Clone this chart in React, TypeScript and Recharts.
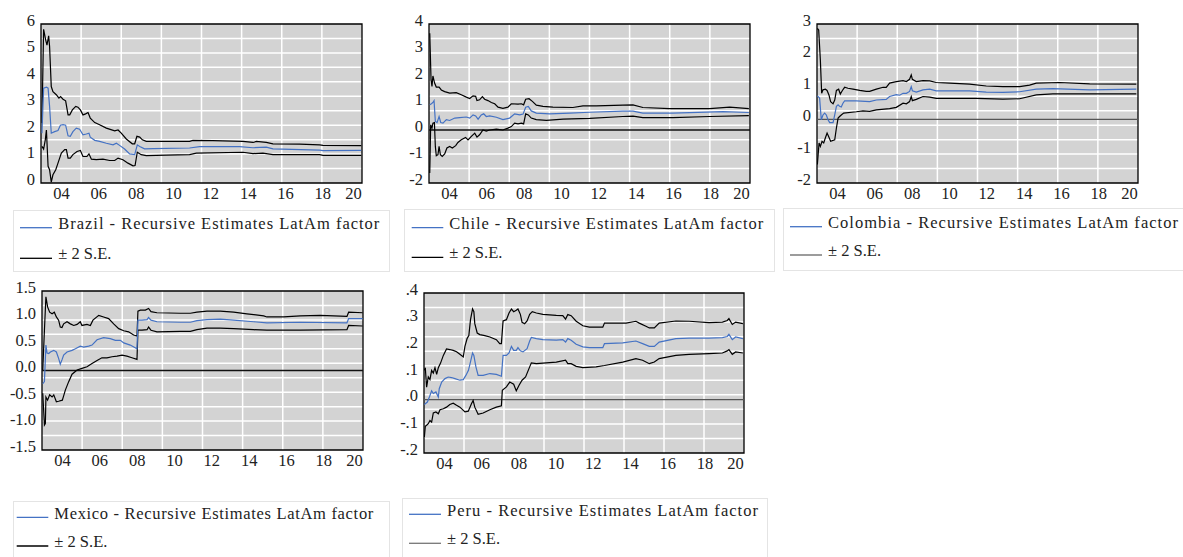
import { CartesianGrid, Line, LineChart, ReferenceArea, ReferenceLine, XAxis, YAxis } from "recharts";

const FONT = '"Liberation Serif", "DejaVu Serif", serif';
const BLUE = "#4472C4";

type Pair = [number, number];

// x = year (decimal), y = value
const yearTicks = [2004, 2006, 2008, 2010, 2012, 2014, 2016, 2018, 2020];
const xDomain: [number, number] = [2002.9, 2020.1];

const brazilYTicks = [0, 1, 2, 3, 4, 5, 6];
const chileYTicks = [-2, -1, 0, 1, 2, 3, 4];
const colombiaYTicks = [-2, -1, 0, 1, 2, 3];
const mexicoYTicks = [-1.5, -1.0, -0.5, 0.0, 0.5, 1.0, 1.5];
const peruYTicks = [-0.2, -0.1, 0.0, 0.1, 0.2, 0.3, 0.4];

const brazilUpper: Pair[] = [
  [2002.95, 2.26], [2003.04, 5.8], [2003.15, 5.4], [2003.22, 5.2], [2003.31, 5.55], [2003.36, 5.15],
  [2003.45, 3.64], [2003.54, 3.45], [2003.72, 3.33], [2003.86, 3.2], [2003.95, 3.26], [2004.08, 3.16],
  [2004.22, 3.1], [2004.35, 2.57], [2004.44, 2.57], [2004.58, 2.76], [2004.76, 2.89], [2004.88, 2.86],
  [2005.01, 2.76], [2005.15, 2.57], [2005.29, 2.61], [2005.42, 2.66], [2005.54, 2.45], [2005.78, 2.28],
  [2006.04, 2.2], [2006.4, 2.07], [2006.85, 1.97], [2007.03, 2.0], [2007.2, 1.88], [2007.47, 1.66],
  [2007.79, 1.48], [2007.92, 1.48], [2008.04, 1.76], [2008.19, 1.73], [2008.33, 1.63], [2008.54, 1.57],
  [2009.26, 1.57], [2010.86, 1.57], [2011.04, 1.61], [2012.11, 1.6], [2013.72, 1.57], [2014.26, 1.53],
  [2014.44, 1.57], [2014.97, 1.53], [2015.33, 1.48], [2016.76, 1.47], [2017.83, 1.44], [2018.01, 1.42],
  [2020.06, 1.41],
];
const brazilEst: Pair[] = [
  [2002.95, 1.88], [2003.04, 3.58], [2003.19, 3.62], [2003.28, 3.58], [2003.36, 2.89], [2003.45, 1.88],
  [2003.63, 1.94], [2003.81, 1.98], [2003.94, 2.18], [2004.08, 2.2], [2004.22, 2.18], [2004.35, 1.78],
  [2004.47, 1.76], [2004.61, 1.94], [2004.79, 2.07], [2004.97, 2.03], [2005.15, 1.82], [2005.33, 1.85],
  [2005.47, 1.88], [2005.54, 1.73], [2005.78, 1.61], [2006.04, 1.57], [2006.4, 1.5], [2006.76, 1.44],
  [2006.94, 1.5], [2007.11, 1.42], [2007.38, 1.28], [2007.65, 1.1], [2007.92, 1.07], [2008.06, 1.44],
  [2008.19, 1.38], [2008.45, 1.29], [2008.9, 1.3], [2010.86, 1.32], [2011.4, 1.37], [2013.54, 1.37],
  [2014.26, 1.33], [2014.97, 1.35], [2015.33, 1.29], [2017.83, 1.24], [2018.01, 1.22], [2020.06, 1.23],
];
const brazilLower: Pair[] = [
  [2002.95, 1.38], [2003.04, 1.28], [2003.13, 1.63], [2003.19, 2.0], [2003.28, 0.63], [2003.36, 0.5],
  [2003.45, 0.03], [2003.54, 0.31], [2003.69, 0.5], [2003.81, 0.75], [2003.99, 1.13], [2004.17, 1.26],
  [2004.26, 1.26], [2004.35, 0.94], [2004.47, 0.94], [2004.61, 1.07], [2004.83, 1.19], [2005.01, 1.23],
  [2005.15, 1.0], [2005.36, 1.0], [2005.47, 1.1], [2005.6, 0.9], [2005.86, 0.88], [2006.22, 0.9],
  [2006.58, 0.85], [2006.85, 0.85], [2007.03, 0.94], [2007.29, 0.88], [2007.56, 0.75], [2007.83, 0.65],
  [2007.94, 0.66], [2008.06, 1.16], [2008.27, 1.07], [2008.54, 1.03], [2009.61, 1.05], [2010.86, 1.07],
  [2011.22, 1.13], [2013.72, 1.16], [2014.26, 1.11], [2014.79, 1.13], [2015.33, 1.07], [2017.83, 1.07],
  [2018.01, 1.04], [2020.06, 1.04],
];

const chileUpper: Pair[] = [
  [2002.94, 3.65], [2003.01, 1.89], [2003.06, 1.64], [2003.11, 2.04], [2003.2, 1.77], [2003.29, 1.62],
  [2003.44, 1.62], [2003.56, 1.51], [2003.74, 1.45], [2004.01, 1.39], [2004.36, 1.41], [2004.63, 1.33],
  [2004.9, 1.24], [2005.08, 1.19], [2005.26, 1.29], [2005.4, 1.27], [2005.47, 1.11], [2005.61, 1.14],
  [2005.76, 1.26], [2005.88, 1.16], [2006.06, 1.11], [2006.24, 1.04], [2006.42, 0.99], [2006.6, 0.86],
  [2006.86, 0.82], [2007.13, 0.86], [2007.31, 0.99], [2007.67, 0.98], [2007.85, 0.99], [2007.97, 0.95],
  [2008.08, 1.16], [2008.26, 1.18], [2008.44, 1.08], [2008.65, 0.94], [2009.01, 0.89], [2009.54, 0.86],
  [2010.61, 0.85], [2011.15, 0.91], [2011.86, 0.91], [2013.29, 0.94], [2013.83, 0.95], [2014.36, 0.85],
  [2015.79, 0.81], [2017.94, 0.81], [2019.01, 0.86], [2020.04, 0.81],
];
const chileEst: Pair[] = [
  [2002.94, 0.95], [2003.03, 0.99], [2003.11, 1.04], [2003.17, 1.11], [2003.24, 0.32], [2003.33, 0.28],
  [2003.44, 0.51], [2003.53, 0.28], [2003.65, 0.26], [2003.83, 0.39], [2004.01, 0.36], [2004.28, 0.45],
  [2004.54, 0.47], [2004.9, 0.49], [2005.08, 0.45], [2005.26, 0.57], [2005.4, 0.53], [2005.53, 0.41],
  [2005.7, 0.57], [2005.83, 0.61], [2005.97, 0.51], [2006.15, 0.53], [2006.51, 0.48], [2006.86, 0.39],
  [2007.22, 0.45], [2007.49, 0.61], [2007.76, 0.57], [2007.94, 0.6], [2008.08, 0.86], [2008.22, 0.89],
  [2008.38, 0.72], [2008.65, 0.64], [2009.36, 0.61], [2010.44, 0.64], [2011.51, 0.67], [2013.29, 0.71],
  [2013.83, 0.71], [2014.36, 0.64], [2015.97, 0.64], [2018.65, 0.69], [2020.04, 0.66],
];
const chileLower: Pair[] = [
  [2002.94, -1.62], [2002.99, 0.2], [2003.06, 0.07], [2003.11, 0.26], [2003.19, 0.28], [2003.24, -0.62],
  [2003.29, -0.97], [2003.38, -0.93], [2003.44, -0.62], [2003.51, -0.93], [2003.61, -1.0], [2003.74, -0.9],
  [2003.86, -0.68], [2004.01, -0.62], [2004.15, -0.68], [2004.33, -0.59], [2004.45, -0.47], [2004.63, -0.37],
  [2004.86, -0.28], [2004.99, -0.37], [2005.17, -0.24], [2005.35, -0.12], [2005.47, -0.27], [2005.61, -0.18],
  [2005.79, 0.0], [2005.97, -0.04], [2006.15, 0.0], [2006.51, 0.03], [2006.86, 0.0], [2007.13, 0.07],
  [2007.31, 0.13], [2007.49, 0.26], [2007.67, 0.23], [2007.85, 0.26], [2007.97, 0.23], [2008.08, 0.61],
  [2008.22, 0.57], [2008.38, 0.45], [2008.65, 0.39], [2009.19, 0.36], [2010.08, 0.41], [2011.51, 0.44],
  [2013.29, 0.51], [2013.83, 0.52], [2014.36, 0.47], [2015.97, 0.47], [2017.94, 0.51], [2020.04, 0.54],
];

const colombiaUpper: Pair[] = [
  [2002.92, 2.86], [2002.99, 2.81], [2003.08, 1.87], [2003.15, 0.82], [2003.22, 0.93], [2003.35, 0.95],
  [2003.44, 0.91], [2003.54, 0.77], [2003.63, 0.56], [2003.76, 0.49], [2003.85, 0.61], [2003.94, 0.91],
  [2004.06, 0.95], [2004.15, 0.8], [2004.26, 0.91], [2004.38, 1.01], [2004.56, 0.98], [2004.83, 0.95],
  [2005.19, 0.91], [2005.54, 0.88], [2005.72, 0.88], [2006.08, 0.95], [2006.44, 1.01], [2006.61, 1.01],
  [2006.79, 1.14], [2007.15, 1.19], [2007.51, 1.22], [2007.69, 1.19], [2007.86, 1.26], [2007.95, 1.4],
  [2008.01, 1.26], [2008.22, 1.19], [2008.58, 1.22], [2008.94, 1.21], [2009.29, 1.16], [2010.01, 1.14],
  [2011.08, 1.11], [2011.97, 1.05], [2012.86, 1.03], [2013.76, 1.03], [2014.29, 1.08], [2014.65, 1.14],
  [2015.9, 1.16], [2017.51, 1.12], [2020.01, 1.11],
];
const colombiaEst: Pair[] = [
  [2002.92, 0.74], [2003.04, 0.67], [2003.13, -0.01], [2003.22, 0.14], [2003.31, 0.2], [2003.4, 0.14],
  [2003.49, -0.01], [2003.58, -0.1], [2003.76, -0.1], [2003.85, 0.14], [2003.94, 0.41], [2004.03, 0.46],
  [2004.11, 0.41], [2004.2, 0.39], [2004.29, 0.51], [2004.38, 0.58], [2005.01, 0.58], [2005.72, 0.56],
  [2006.08, 0.61], [2006.61, 0.63], [2006.79, 0.72], [2007.15, 0.78], [2007.33, 0.76], [2007.51, 0.82],
  [2007.69, 0.82], [2007.86, 0.88], [2007.95, 1.03], [2008.01, 0.9], [2008.22, 0.86], [2008.58, 0.93],
  [2008.94, 0.95], [2009.29, 0.9], [2011.08, 0.9], [2011.97, 0.86], [2012.86, 0.85], [2013.76, 0.87],
  [2014.65, 0.95], [2015.54, 0.97], [2017.51, 0.93], [2020.01, 0.95],
];
const colombiaLower: Pair[] = [
  [2002.92, -1.42], [2003.01, -0.74], [2003.08, -0.85], [2003.17, -0.69], [2003.26, -0.74], [2003.36, -0.56],
  [2003.44, -0.43], [2003.54, -0.56], [2003.63, -0.69], [2003.85, -0.64], [2003.94, -0.27], [2004.03, 0.04],
  [2004.11, 0.09], [2004.2, 0.14], [2004.33, 0.2], [2005.01, 0.24], [2005.36, 0.27], [2005.72, 0.25],
  [2006.08, 0.3], [2006.79, 0.34], [2007.15, 0.38], [2007.51, 0.51], [2007.69, 0.49], [2007.86, 0.56],
  [2007.95, 0.72], [2008.01, 0.59], [2008.22, 0.63], [2008.58, 0.72], [2008.94, 0.7], [2009.29, 0.66],
  [2011.44, 0.66], [2012.86, 0.64], [2013.76, 0.65], [2014.65, 0.77], [2015.54, 0.8], [2020.01, 0.8],
];

const mexicoUpper: Pair[] = [
  [2002.94, 0.01], [2003.03, 0.76], [2003.11, 1.39], [2003.2, 1.2], [2003.31, 1.1], [2003.44, 1.07],
  [2003.56, 1.1], [2003.67, 1.01], [2003.79, 0.95], [2003.88, 0.82], [2003.97, 0.81], [2004.06, 0.88],
  [2004.24, 0.92], [2004.42, 0.88], [2004.6, 0.85], [2004.78, 0.87], [2004.95, 0.92], [2005.04, 0.85],
  [2005.31, 0.87], [2005.49, 0.85], [2005.63, 0.95], [2005.94, 1.04], [2006.2, 1.01], [2006.47, 0.98],
  [2006.74, 0.88], [2007.01, 0.79], [2007.28, 0.75], [2007.54, 0.73], [2007.81, 0.67], [2007.99, 0.65],
  [2008.04, 1.12], [2008.17, 1.14], [2008.44, 1.14], [2008.61, 1.17], [2008.74, 1.11], [2009.06, 1.09],
  [2010.31, 1.08], [2010.85, 1.08], [2011.2, 1.1], [2011.74, 1.12], [2012.45, 1.12], [2013.17, 1.1],
  [2013.88, 1.07], [2014.78, 1.03], [2014.95, 1.01], [2015.85, 1.01], [2016.74, 1.03], [2017.81, 1.04],
  [2019.24, 1.02], [2019.33, 1.1], [2020.08, 1.09],
];
const mexicoEst: Pair[] = [
  [2002.94, -0.25], [2003.03, -0.21], [2003.11, 0.48], [2003.17, 0.33], [2003.26, 0.32], [2003.35, 0.35],
  [2003.53, 0.38], [2003.67, 0.35], [2003.79, 0.23], [2003.88, 0.12], [2003.97, 0.2], [2004.06, 0.29],
  [2004.24, 0.35], [2004.51, 0.38], [2004.69, 0.41], [2004.95, 0.46], [2005.13, 0.44], [2005.4, 0.46],
  [2005.58, 0.48], [2005.85, 0.58], [2006.2, 0.62], [2006.56, 0.6], [2006.83, 0.57], [2007.1, 0.57],
  [2007.28, 0.52], [2007.63, 0.48], [2007.99, 0.41], [2008.04, 0.95], [2008.26, 0.95], [2008.53, 0.96],
  [2008.61, 1.0], [2008.74, 0.95], [2009.06, 0.92], [2010.31, 0.91], [2010.85, 0.91], [2011.2, 0.94],
  [2011.74, 0.96], [2012.45, 0.97], [2013.17, 0.95], [2014.24, 0.92], [2014.95, 0.9], [2016.74, 0.91],
  [2019.24, 0.9], [2019.33, 0.98], [2020.08, 0.98],
];
const mexicoLower: Pair[] = [
  [2002.94, -0.43], [2003.03, -1.03], [2003.08, -1.0], [2003.11, -0.5], [2003.2, -0.56], [2003.31, -0.46],
  [2003.44, -0.5], [2003.53, -0.46], [2003.67, -0.59], [2003.79, -0.58], [2003.99, -0.56], [2004.06, -0.48],
  [2004.15, -0.37], [2004.33, -0.21], [2004.51, -0.07], [2004.78, 0.01], [2005.04, 0.04], [2005.31, 0.07],
  [2005.58, 0.13], [2005.85, 0.19], [2006.11, 0.24], [2006.38, 0.24], [2006.65, 0.26], [2006.92, 0.27],
  [2007.19, 0.29], [2007.45, 0.27], [2007.72, 0.24], [2007.99, 0.21], [2008.04, 0.76], [2008.26, 0.76],
  [2008.53, 0.77], [2008.61, 0.82], [2008.74, 0.76], [2009.06, 0.73], [2010.31, 0.74], [2010.85, 0.74],
  [2011.2, 0.77], [2011.74, 0.8], [2012.45, 0.8], [2013.17, 0.79], [2014.24, 0.77], [2014.95, 0.76],
  [2016.74, 0.76], [2019.24, 0.77], [2019.33, 0.85], [2020.08, 0.84],
];

const peruUpper: Pair[] = [
  [2002.92, 0.11], [2002.97, 0.12], [2003.04, 0.047], [2003.13, 0.085], [2003.22, 0.075], [2003.31, 0.11],
  [2003.4, 0.1], [2003.49, 0.12], [2003.58, 0.095], [2003.67, 0.12], [2003.79, 0.137], [2003.94, 0.166],
  [2004.11, 0.19], [2004.29, 0.188], [2004.47, 0.185], [2004.65, 0.18], [2004.83, 0.17], [2005.01, 0.16],
  [2005.1, 0.2], [2005.22, 0.23], [2005.31, 0.24], [2005.4, 0.3], [2005.51, 0.34], [2005.58, 0.33],
  [2005.63, 0.285], [2005.76, 0.25], [2005.9, 0.244], [2006.17, 0.24], [2006.44, 0.235], [2006.79, 0.225],
  [2006.97, 0.21], [2007.06, 0.21], [2007.15, 0.295], [2007.33, 0.3], [2007.47, 0.325], [2007.6, 0.34],
  [2007.72, 0.33], [2007.86, 0.335], [2007.95, 0.34], [2008.08, 0.32], [2008.17, 0.29], [2008.31, 0.285],
  [2008.44, 0.295], [2008.58, 0.32], [2008.72, 0.33], [2008.94, 0.325], [2009.29, 0.32], [2010.01, 0.316],
  [2010.36, 0.315], [2010.51, 0.302], [2010.63, 0.319], [2010.81, 0.315], [2011.08, 0.294], [2011.44, 0.277],
  [2011.79, 0.272], [2012.51, 0.272], [2012.6, 0.287], [2013.76, 0.287], [2014.29, 0.294], [2014.47, 0.287],
  [2014.83, 0.275], [2015.01, 0.269], [2015.28, 0.269], [2015.54, 0.287], [2016.44, 0.295], [2017.15, 0.294],
  [2018.22, 0.289], [2018.94, 0.291], [2019.2, 0.297], [2019.29, 0.304], [2019.47, 0.282], [2019.65, 0.291],
  [2020.04, 0.285],
];
const peruEst: Pair[] = [
  [2002.92, -0.018], [2003.08, -0.009], [2003.19, 0.01], [2003.31, 0.033], [2003.4, 0.023], [2003.54, 0.029],
  [2003.67, 0.01], [2003.72, 0.041], [2003.85, 0.066], [2004.03, 0.079], [2004.2, 0.085], [2004.38, 0.083],
  [2004.56, 0.079], [2004.83, 0.073], [2005.01, 0.075], [2005.15, 0.091], [2005.29, 0.11], [2005.42, 0.148],
  [2005.51, 0.175], [2005.58, 0.166], [2005.69, 0.123], [2005.81, 0.091], [2006.08, 0.091], [2006.44, 0.098],
  [2006.79, 0.095], [2007.06, 0.088], [2007.15, 0.166], [2007.33, 0.166], [2007.47, 0.175], [2007.6, 0.2],
  [2007.72, 0.185], [2007.86, 0.185], [2007.95, 0.195], [2008.08, 0.183], [2008.22, 0.179], [2008.44, 0.191],
  [2008.58, 0.22], [2008.67, 0.233], [2008.94, 0.229], [2009.29, 0.225], [2010.01, 0.223], [2010.36, 0.225],
  [2010.51, 0.216], [2010.63, 0.229], [2010.81, 0.223], [2011.08, 0.208], [2011.44, 0.198], [2011.79, 0.195],
  [2012.51, 0.195], [2012.6, 0.21], [2013.58, 0.213], [2014.29, 0.22], [2014.65, 0.21], [2015.01, 0.2],
  [2015.28, 0.2], [2015.54, 0.216], [2016.44, 0.229], [2017.15, 0.231], [2018.22, 0.231], [2018.94, 0.233],
  [2019.2, 0.237], [2019.29, 0.245], [2019.47, 0.225], [2019.65, 0.235], [2020.04, 0.229],
];
const peruLower: Pair[] = [
  [2002.92, -0.14], [2002.97, -0.1], [2003.04, -0.096], [2003.13, -0.09], [2003.22, -0.078], [2003.31, -0.084],
  [2003.4, -0.05], [2003.54, -0.046], [2003.67, -0.053], [2003.76, -0.038], [2003.94, -0.034], [2004.11, -0.028],
  [2004.29, -0.018], [2004.47, -0.013], [2004.65, -0.021], [2004.83, -0.028], [2005.1, -0.046], [2005.28, -0.043],
  [2005.45, -0.015], [2005.54, -0.003], [2005.63, -0.028], [2005.81, -0.055], [2006.08, -0.05], [2006.44, -0.038],
  [2006.79, -0.028], [2007.06, -0.023], [2007.11, 0.035], [2007.33, 0.048], [2007.51, 0.066], [2007.72, 0.058],
  [2007.86, 0.033], [2008.01, 0.054], [2008.17, 0.073], [2008.36, 0.085], [2008.58, 0.123], [2008.67, 0.138],
  [2008.94, 0.135], [2009.47, 0.138], [2010.01, 0.141], [2010.51, 0.148], [2010.63, 0.135], [2010.81, 0.135],
  [2011.08, 0.125], [2011.44, 0.12], [2012.15, 0.123], [2012.6, 0.128], [2013.58, 0.141], [2014.29, 0.154],
  [2014.65, 0.148], [2015.01, 0.135], [2015.28, 0.141], [2015.54, 0.154], [2016.44, 0.166], [2017.15, 0.17],
  [2018.22, 0.173], [2018.94, 0.175], [2019.2, 0.183], [2019.29, 0.188], [2019.47, 0.17], [2019.65, 0.179],
  [2020.04, 0.175],
];

const toPts = (arr: Pair[]) => arr.map(([x, y]) => ({ x, y }));

const intFmt = (v: number) => String(v);
const oneDec = (v: number) => v.toFixed(1);
const noLead = (v: number) => v.toFixed(1).replace("0.", ".");

type LegendCfg = {
  left: number; top: number; width: number; height: number;
  lx1: number; lx2: number; row1: number; row2: number; tx: number; tw: number; seColor: string;
};

type PanelCfg = {
  name: string;
  upper: Pair[]; est: Pair[]; lower: Pair[];
  yTicks: number[]; fmt: (v: number) => string;
  plot: { left: number; top: number; width: number; height: number };
  zeroColor: string | null;
  legend: LegendCfg;
};

const panels: PanelCfg[] = [
  {
    name: "Brazil", upper: brazilUpper, est: brazilEst, lower: brazilLower, yTicks: brazilYTicks, fmt: intFmt,
    plot: { left: 41, top: 24, width: 321, height: 159 }, zeroColor: null,
    legend: { left: 13, top: 210, width: 377, height: 62, lx1: 7, lx2: 39, row1: 17.7, row2: 48.3, tx: 45.3, tw: 321, seColor: "#000" },
  },
  {
    name: "Chile", upper: chileUpper, est: chileEst, lower: chileLower, yTicks: chileYTicks, fmt: intFmt,
    plot: { left: 429, top: 24, width: 321, height: 159 }, zeroColor: "#111",
    legend: { left: 404, top: 209, width: 371, height: 63, lx1: 7.7, lx2: 39.3, row1: 18.7, row2: 48.3, tx: 45.3, tw: 314, seColor: "#000" },
  },
  {
    name: "Colombia", upper: colombiaUpper, est: colombiaEst, lower: colombiaLower, yTicks: colombiaYTicks, fmt: intFmt,
    plot: { left: 817, top: 24, width: 321, height: 159 }, zeroColor: "#555",
    legend: { left: 783, top: 208, width: 402, height: 63, lx1: 7, lx2: 39, row1: 18.7, row2: 47, tx: 45, tw: 350, seColor: "#666" },
  },
  {
    name: "Mexico", upper: mexicoUpper, est: mexicoEst, lower: mexicoLower, yTicks: mexicoYTicks, fmt: oneDec,
    plot: { left: 42, top: 291, width: 321, height: 159 }, zeroColor: "#111",
    legend: { left: 13, top: 501, width: 377, height: 62, lx1: 3.7, lx2: 35.3, row1: 16.3, row2: 45, tx: 41.3, tw: 319, seColor: "#000" },
  },
  {
    name: "Peru", upper: peruUpper, est: peruEst, lower: peruLower, yTicks: peruYTicks, fmt: noLead,
    plot: { left: 424, top: 293, width: 320, height: 160 }, zeroColor: "#555",
    legend: { left: 402, top: 498, width: 366, height: 62, lx1: 7, lx2: 39, row1: 16.3, row2: 45.3, tx: 45, tw: 311, seColor: "#777" },
  },
];

const PAD_L = 50;
const PAD_T = 22;
const PAD_R = 12;
const PAD_B = 30;

function LegendBox({ lg, name }: { lg: LegendCfg; name: string }) {
  return (
    <div
      style={{
        position: "absolute", left: lg.left, top: lg.top, width: lg.width, height: lg.height,
        border: "1px solid #e4e4e4", boxSizing: "border-box", background: "#fff",
      }}
    >
      <svg width={lg.width} height={lg.height} style={{ position: "absolute", left: -1, top: -1 }}>
        <line x1={lg.lx1} x2={lg.lx2} y1={lg.row1} y2={lg.row1} stroke={BLUE} strokeWidth={1.3} />
        <text x={lg.tx} y={lg.row1 + 1.5} fontFamily={FONT} fontSize={16.5} fill="#222" textLength={lg.tw} lengthAdjust="spacing">
          {`${name} - Recursive Estimates LatAm factor`}
        </text>
        <line x1={lg.lx1} x2={lg.lx2} y1={lg.row2} y2={lg.row2} stroke={lg.seColor} strokeWidth={1.3} />
        <text x={lg.tx} y={lg.row2 + 0.5} fontFamily={FONT} fontSize={16.5} fill="#222">
          ± 2 S.E.
        </text>
      </svg>
    </div>
  );
}

function Panel({ p }: { p: PanelCfg }) {
  const yMin = p.yTicks[0];
  const yMax = p.yTicks[p.yTicks.length - 1];
  const hGen = (args: any) => {
    const o = args && args.offset ? args.offset : { top: PAD_T, height: p.plot.height };
    return Array.from({ length: 10 }, (_, i) => o.top + (o.height * (i + 1)) / 11);
  };
  const vGen = (args: any) => {
    const o = args && args.offset ? args.offset : { left: PAD_L, width: p.plot.width };
    return Array.from({ length: 7 }, (_, i) => o.left + (o.width * (i + 1)) / 8);
  };
  const xTick = (t: any) => {
    const last = t.payload.value === yearTicks[yearTicks.length - 1];
    return (
      <text
        x={last ? t.x + 1.5 : t.x}
        y={t.y + 16}
        textAnchor={last ? "end" : "middle"}
        fontFamily={FONT}
        fontSize={16.5}
        fill="#222"
      >
        {String(t.payload.value).slice(2)}
      </text>
    );
  };
  const yTick = (t: any) => (
    <text x={t.x} y={t.y + 1.5} textAnchor="end" fontFamily={FONT} fontSize={16.5} fill="#222">
      {p.fmt(t.payload.value)}
    </text>
  );
  return (
    <>
      <div style={{ position: "absolute", left: p.plot.left - PAD_L, top: p.plot.top - PAD_T }}>
        <LineChart
          width={p.plot.width + PAD_L + PAD_R}
          height={p.plot.height + PAD_T + PAD_B}
          margin={{ top: PAD_T, right: PAD_R, bottom: 0, left: 0 }}
        >
          <CartesianGrid
            fill="#d3d3d3"
            fillOpacity={1}
            stroke="#fff"
            strokeWidth={1.5}
            horizontalCoordinatesGenerator={hGen}
            verticalCoordinatesGenerator={vGen}
          />
          <XAxis
            type="number"
            dataKey="x"
            domain={xDomain}
            ticks={yearTicks}
            interval={0}
            height={PAD_B}
            axisLine={false}
            tickLine={false}
            tickSize={0}
            tickMargin={0}
            tick={xTick}
            allowDataOverflow
          />
          <YAxis
            type="number"
            dataKey="y"
            domain={[yMin, yMax]}
            ticks={p.yTicks}
            interval={0}
            width={PAD_L}
            axisLine={false}
            tickLine={false}
            tickSize={0}
            tickMargin={6}
            tick={yTick}
            allowDataOverflow
          />
          {p.zeroColor && <ReferenceLine y={0} stroke={p.zeroColor} strokeWidth={1.4} />}
          <Line data={toPts(p.upper)} dataKey="y" type="linear" stroke="#000" strokeWidth={1.2} dot={false} activeDot={false} isAnimationActive={false} />
          <Line data={toPts(p.lower)} dataKey="y" type="linear" stroke="#000" strokeWidth={1.2} dot={false} activeDot={false} isAnimationActive={false} />
          <Line data={toPts(p.est)} dataKey="y" type="linear" stroke={BLUE} strokeWidth={1.2} dot={false} activeDot={false} isAnimationActive={false} />
          <ReferenceArea x1={xDomain[0]} x2={xDomain[1]} y1={yMin} y2={yMax} fill="none" stroke="#000" strokeWidth={1.3} />
        </LineChart>
      </div>
      <LegendBox lg={p.legend} name={p.name} />
    </>
  );
}

export default function App() {
  return (
    <div style={{ position: "absolute", left: 0, top: 0, width: 1183, height: 557, background: "#fff", overflow: "hidden" }}>
      {panels.map((p) => (
        <Panel key={p.name} p={p} />
      ))}
    </div>
  );
}
